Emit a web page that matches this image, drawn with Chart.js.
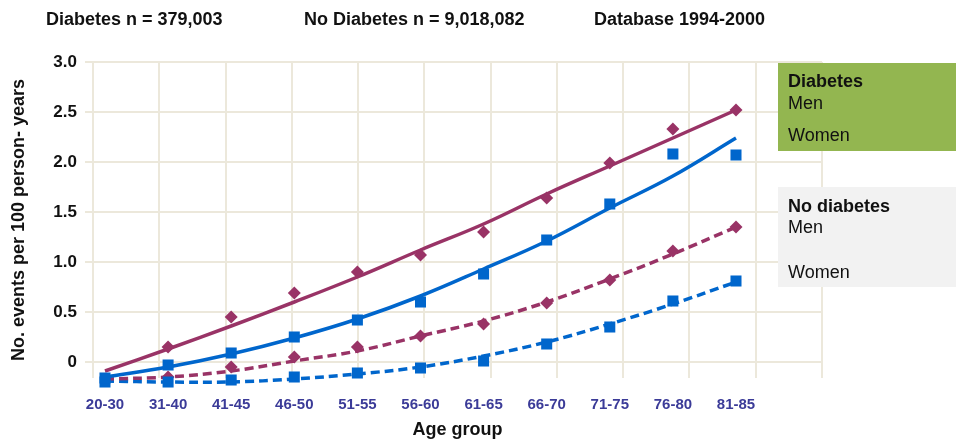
<!DOCTYPE html>
<html>
<head>
<meta charset="utf-8">
<script src="https://cdn.jsdelivr.net/npm/chart.js@4"></script>
<style>
  body { margin: 0; background: #fff; }
  #wrap { position: relative; width: 956px; height: 441px; font-family: "Liberation Sans", Arial, sans-serif; color: #111; }
  #wrap canvas { position: absolute; left: 0; top: 0; }
  .t { position: absolute; font-size: 18px; line-height: 18px; white-space: nowrap; }
  .b { font-weight: bold; }
  .box { position: absolute; left: 778px; width: 178px; }
</style>
</head>
<body>
<div id="wrap">
  <canvas id="chart" width="956" height="441"></canvas>
  <div class="t b" style="left:46px; top:10px;">Diabetes n = 379,003</div>
  <div class="t b" style="left:304px; top:10px;">No Diabetes n = 9,018,082</div>
  <div class="t b" style="left:594px; top:10px;">Database 1994-2000</div>
  <div class="box" style="top:63px; height:88px; background:#93b650;"></div>
  <div class="box" style="top:187px; height:100px; background:#f2f2f2;"></div>
  <div class="t b" style="left:788px; top:72px;">Diabetes</div>
  <div class="t" style="left:788px; top:94px;">Men</div>
  <div class="t" style="left:788px; top:126px;">Women</div>
  <div class="t b" style="left:788px; top:197px;">No diabetes</div>
  <div class="t" style="left:788px; top:218px;">Men</div>
  <div class="t" style="left:788px; top:263px;">Women</div>
</div>
<script>
const ageGroups = ['20-30', '31-40', '41-45', '46-50', '51-55', '56-60', '61-65', '66-70', '71-75', '76-80', '81-85'];
const yTicks = [0, 0.5, 1.0, 1.5, 2.0, 2.5, 3.0];

// observed rates (first diamonds are hidden under the squares in the original)
const diabMen      = [null, 0.15, 0.45, 0.69, 0.90, 1.07, 1.30, 1.64, 1.99, 2.33, 2.52];
const diabWomen    = [-0.16, -0.03, 0.09, 0.25, 0.42, 0.60, 0.88, 1.22, 1.58, 2.08, 2.07];
const noDiabMen    = [null, -0.15, -0.05, 0.05, 0.15, 0.26, 0.38, 0.59, 0.82, 1.11, 1.35];
const noDiabWomen  = [-0.20, -0.20, -0.18, -0.15, -0.11, -0.06, 0.01, 0.18, 0.35, 0.61, 0.81];

// fitted trend lines
const diabMenFit     = [-0.09, 0.13, 0.36, 0.60, 0.85, 1.12, 1.38, 1.68, 1.96, 2.24, 2.52];
const diabWomenFit   = [-0.15, -0.05, 0.08, 0.24, 0.43, 0.66, 0.93, 1.21, 1.54, 1.86, 2.24];
const noDiabMenFit   = [-0.17, -0.15, -0.09, 0.01, 0.11, 0.26, 0.41, 0.60, 0.83, 1.08, 1.35];
const noDiabWomenFit = [-0.19, -0.20, -0.20, -0.17, -0.12, -0.05, 0.06, 0.20, 0.38, 0.58, 0.80];

const purple = '#993366';
const blue = '#0066cc';
const gridColor = '#ece8db';

const xMin = -0.19, xMax = 11.363;

function pts(arr) {
    return arr.map((v, i) => ({x: i, y: v}));
}

function markers(arr, color, style, r) {
    return {
        data: pts(arr), showLine: false, pointStyle: style, pointRadius: r,
        pointHoverRadius: r, backgroundColor: color, borderColor: color,
        pointBorderWidth: 0, clip: false
    };
}

function trend(arr, color, dashed) {
    return {
        data: pts(arr), showLine: true, pointRadius: 0, borderColor: color,
        borderWidth: 3.5, borderDash: dashed ? [9, 5] : [], tension: 0.4,
        clip: false, fill: false
    };
}

const ctx = document.getElementById('chart').getContext('2d');
const chart = new Chart(ctx, {
    type: 'scatter',
    data: {
        datasets: [
            markers(diabWomen, blue, 'rect', 7.8),
            markers(noDiabWomen, blue, 'rect', 7.8),
            markers(diabMen, purple, 'rectRot', 6.5),
            markers(noDiabMen, purple, 'rectRot', 6.5),
            trend(diabMenFit, purple, false),
            trend(diabWomenFit, blue, false),
            trend(noDiabMenFit, purple, true),
            trend(noDiabWomenFit, blue, true)
        ]
    },
    options: {
        responsive: false,
        animation: false,
        layout: { padding: { top: 62, right: 134, left: 0, bottom: 0 } },
        plugins: {
            legend: { display: false },
            tooltip: { enabled: false }
        },
        scales: {
            x: {
                type: 'linear', min: xMin, max: xMax,
                afterBuildTicks: s => { s.ticks = ageGroups.map((_, i) => ({value: i})); },
                afterFit: s => { s.height = 63; },
                grid: { display: false },
                border: { display: false },
                ticks: {
                    padding: 10, autoSkip: false, maxRotation: 0,
                    color: '#3b3b98',
                    font: { family: 'Liberation Sans', size: 15, weight: 'bold' },
                    callback: v => ageGroups[v]
                },
                title: {
                    display: true, text: 'Age group', color: '#111',
                    font: { family: 'Liberation Sans', size: 18, weight: 'bold' },
                    padding: { top: 0, bottom: 0 }
                }
            },
            xg: {
                type: 'linear', position: 'bottom', min: xMin, max: xMax,
                afterBuildTicks: s => {
                    const step = (xMax - xMin) / 11;
                    s.ticks = ageGroups.concat(['']).map((_, k) => ({value: xMin + k * step}));
                },
                afterFit: s => { s.height = 0; },
                grid: { color: gridColor, lineWidth: 2, drawTicks: false },
                border: { display: false },
                ticks: { display: false }
            },
            y: {
                min: -0.16, max: 3.0,
                afterBuildTicks: s => { s.ticks = yTicks.map(v => ({value: v})); },
                afterFit: s => { s.width = 93; },
                grid: { color: gridColor, lineWidth: 2, drawTicks: true, tickLength: 8 },
                border: { display: false },
                ticks: {
                    padding: 8, color: '#111',
                    font: { family: 'Liberation Sans', size: 17, weight: 'bold' },
                    callback: v => v === 0 ? '0' : v.toFixed(1)
                },
                title: {
                    display: true, text: 'No. events per 100 person- years', color: '#111',
                    font: { family: 'Liberation Sans', size: 18, weight: 'bold' },
                    padding: { top: 8, bottom: 4 }
                }
            }
        }
    }
});
</script>
</body>
</html>
